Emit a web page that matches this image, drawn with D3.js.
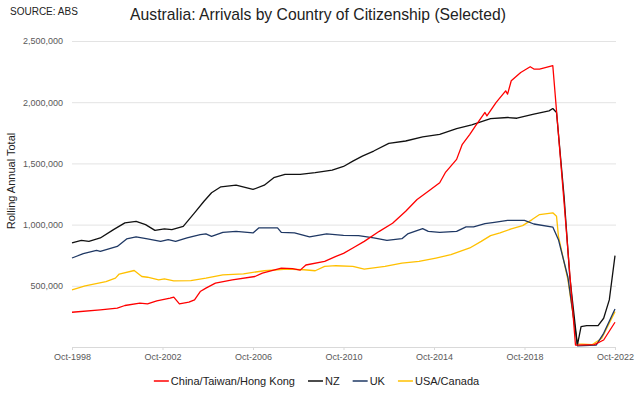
<!DOCTYPE html>
<html>
<head>
<meta charset="utf-8">
<script src="https://cdn.jsdelivr.net/npm/d3@7"></script>
<style>
  body { margin: 0; background: #fff; }
  svg { font-family: "Liberation Sans", Arial, sans-serif; }
</style>
</head>
<body>
<script>
// series names and colours, in legend order
var seriesNames = ["China/Taiwan/Hong Kong", "NZ", "UK", "USA/Canada"];
var seriesColors = ["#ff0000", "#111111", "#1f3864", "#ffc000"];

// rolling annual arrivals [month, value]
var china = [
  ["1998-10", 284000], ["2000-01", 303000], ["2000-10", 317000], ["2001-02", 339000],
  ["2001-10", 358000], ["2002-02", 352000], ["2002-07", 377000], ["2003-02", 399000],
  ["2003-04", 407000], ["2003-07", 352000], ["2003-12", 366000], ["2004-03", 385000],
  ["2004-06", 453000], ["2004-09", 481000], ["2005-02", 522000], ["2005-11", 549000],
  ["2006-11", 576000], ["2007-03", 604000], ["2008-01", 645000], ["2008-07", 640000],
  ["2008-11", 628000], ["2009-02", 670000], ["2009-12", 699000], ["2010-06", 740000],
  ["2010-10", 765000], ["2011-03", 809000], ["2011-09", 863000], ["2012-05", 945000],
  ["2012-12", 1011000], ["2013-07", 1109000], ["2014-01", 1205000], ["2014-07", 1273000],
  ["2015-01", 1342000], ["2015-04", 1424000], ["2015-10", 1533000], ["2016-01", 1656000],
  ["2016-05", 1738000], ["2016-08", 1806000], ["2017-01", 1916000], ["2017-02", 1888000],
  ["2017-07", 1998000], ["2017-12", 2093000], ["2018-01", 2066000], ["2018-03", 2175000],
  ["2018-08", 2243000], ["2019-01", 2290000], ["2019-03", 2271000], ["2019-06", 2271000],
  ["2020-01", 2298000], ["2020-07", 1180000], ["2021-01", 16000], ["2021-11", 20000],
  ["2022-04", 57000], ["2022-10", 202000]
];
var nz = [
  ["1998-10", 850000], ["1999-03", 871000], ["1999-07", 863000], ["2000-01", 891000],
  ["2000-08", 959000], ["2001-02", 1014000], ["2001-08", 1027000], ["2002-01", 1000000],
  ["2002-06", 953000], ["2002-11", 965000], ["2003-03", 959000], ["2003-09", 986000],
  ["2004-03", 1096000], ["2004-08", 1191000], ["2004-12", 1260000], ["2005-05", 1309000],
  ["2006-01", 1322000], ["2006-10", 1287000], ["2007-04", 1322000], ["2007-09", 1383000],
  ["2008-03", 1410000], ["2008-11", 1410000], ["2009-07", 1424000], ["2010-04", 1445000],
  ["2010-10", 1475000], ["2011-03", 1519000], ["2011-08", 1560000], ["2012-02", 1601000],
  ["2012-10", 1664000], ["2013-07", 1683000], ["2014-04", 1716000], ["2015-01", 1738000],
  ["2015-10", 1784000], ["2016-06", 1814000], ["2017-04", 1866000], ["2018-01", 1875000],
  ["2018-06", 1869000], ["2019-03", 1902000], ["2019-11", 1929000], ["2020-01", 1948000],
  ["2020-03", 1916000], ["2020-07", 1230000], ["2020-10", 576000], ["2021-02", 16000],
  ["2021-04", 166000], ["2021-07", 175000], ["2022-01", 175000], ["2022-04", 235000],
  ["2022-07", 385000], ["2022-10", 746000]
];
var uk = [
  ["1998-10", 727000], ["1999-04", 762000], ["1999-11", 789000], ["2000-01", 781000],
  ["2000-10", 822000], ["2001-03", 883000], ["2001-08", 899000], ["2002-02", 883000],
  ["2002-09", 863000], ["2003-01", 877000], ["2003-05", 863000], ["2003-11", 891000],
  ["2004-06", 918000], ["2004-09", 924000], ["2004-12", 904000], ["2005-06", 937000],
  ["2006-01", 945000], ["2006-10", 932000], ["2007-01", 973000], ["2007-11", 973000],
  ["2008-01", 937000], ["2008-08", 932000], ["2009-04", 899000], ["2010-01", 924000],
  ["2010-10", 912000], ["2011-06", 910000], ["2012-02", 891000], ["2012-09", 871000],
  ["2013-05", 885000], ["2013-08", 924000], ["2014-04", 967000], ["2014-07", 945000],
  ["2015-01", 937000], ["2015-10", 945000], ["2016-03", 981000], ["2016-07", 981000],
  ["2017-01", 1008000], ["2017-06", 1019000], ["2018-01", 1035000], ["2018-10", 1035000],
  ["2019-03", 1005000], ["2020-01", 980000], ["2020-04", 877000], ["2020-09", 570000],
  ["2021-02", 10000], ["2021-12", 15000], ["2022-04", 112000], ["2022-10", 311000]
];
var usaCanada = [
  ["1998-10", 467000], ["1999-05", 500000], ["2000-04", 535000], ["2000-09", 563000],
  ["2000-11", 596000], ["2001-07", 625000], ["2001-11", 576000], ["2002-02", 570000],
  ["2002-08", 549000], ["2002-11", 557000], ["2003-04", 541000], ["2004-01", 543000],
  ["2004-09", 563000], ["2005-06", 590000], ["2006-05", 598000], ["2007-04", 623000],
  ["2008-04", 637000], ["2009-01", 631000], ["2009-07", 623000], ["2009-12", 658000],
  ["2010-06", 664000], ["2011-03", 658000], ["2011-09", 637000], ["2012-08", 658000],
  ["2013-05", 686000], ["2014-02", 699000], ["2014-11", 727000], ["2015-07", 754000],
  ["2016-05", 809000], ["2016-11", 863000], ["2017-04", 910000], ["2017-09", 932000],
  ["2018-03", 965000], ["2018-09", 992000], ["2019-02", 1041000], ["2019-06", 1082000],
  ["2020-01", 1096000], ["2020-03", 1068000], ["2020-04", 904000], ["2020-09", 549000],
  ["2021-02", 25000], ["2021-10", 20000], ["2022-03", 71000], ["2022-10", 289000]
];
var allSeries = [china, nz, uk, usaCanada];

// axis ticks
var yTicks = [500000, 1000000, 1500000, 2000000, 2500000];
var xTicks = ["1998-10", "2002-10", "2006-10", "2010-10", "2014-10", "2018-10", "2022-10"];

var width = 640, height = 398;
var plotLeft = 72, plotRight = 615, plotTop = 41, plotBottom = 347;

var parseMonth = d3.timeParse("%Y-%m");

var x = d3.scaleTime()
    .domain([parseMonth("1998-10"), parseMonth("2022-10")])
    .range([plotLeft, plotRight]);
var y = d3.scaleLinear().domain([0, 2500000]).range([plotBottom, plotTop]);

var svg = d3.select("body").append("svg")
    .attr("width", width)
    .attr("height", height);

// y gridlines + labels
var yAxis = svg.append("g")
    .attr("transform", "translate(" + plotLeft + ",0)")
    .call(d3.axisLeft(y).tickValues(yTicks).tickFormat(d3.format(","))
        .tickSizeInner(-(plotRight - plotLeft + 1)).tickSizeOuter(0).tickPadding(9));
yAxis.select(".domain").remove();
yAxis.selectAll("line").attr("stroke", "#e3e3e3");
yAxis.selectAll("text").attr("fill", "#595959").style("font-size", "9px");

// x axis
var xAxis = svg.append("g")
    .attr("transform", "translate(0," + plotBottom + ")")
    .call(d3.axisBottom(x).tickValues(xTicks.map(parseMonth))
        .tickFormat(d3.timeFormat("%b-%Y")).tickSizeInner(3).tickSizeOuter(0).tickPadding(4));
xAxis.select(".domain").attr("stroke", "#d9d9d9").attr("d", "M" + plotLeft + ",0.5H" + (plotRight + 1));
xAxis.selectAll("line").attr("stroke", "#d9d9d9");
xAxis.selectAll("text").attr("fill", "#595959").style("font-size", "9px");

// lines
var line = d3.line()
    .x(function(d) { return x(parseMonth(d[0])); })
    .y(function(d) { return y(d[1]); });

// draw in reverse so China sits on top like the original
[3, 2, 1, 0].forEach(function(i) {
    svg.append("path")
        .datum(allSeries[i])
        .attr("fill", "none")
        .attr("stroke", seriesColors[i])
        .attr("stroke-width", 1.3)
        .attr("stroke-linejoin", "round")
        .attr("d", line);
});

// titles
svg.append("text")
    .attr("x", 10).attr("y", 15)
    .style("font-size", "10px").attr("fill", "#222")
    .text("SOURCE: ABS");

svg.append("text")
    .attr("x", 318).attr("y", 20)
    .attr("text-anchor", "middle")
    .style("font-size", "15.7px").attr("fill", "#222")
    .text("Australia: Arrivals by Country of Citizenship (Selected)");

svg.append("text")
    .attr("transform", "translate(15,181) rotate(-90)")
    .attr("text-anchor", "middle")
    .style("font-size", "11px").attr("fill", "#222")
    .text("Rolling Annual Total");

// legend
var legend = svg.append("g");
var lx = 0;
seriesNames.forEach(function(name, i) {
    var g = legend.append("g").attr("transform", "translate(" + lx + ",0)");
    g.append("line")
        .attr("x1", 0).attr("x2", 15).attr("y1", 0).attr("y2", 0)
        .attr("stroke", seriesColors[i]).attr("stroke-width", 1.5);
    var t = g.append("text")
        .attr("x", 17).attr("y", 4)
        .style("font-size", "11px").attr("fill", "#222")
        .text(name);
    lx += 17 + t.node().getComputedTextLength() + 13;
});
var legendWidth = lx - 13;
legend.attr("transform", "translate(" + (316.5 - legendWidth / 2) + ",381)");
</script>
</body>
</html>
